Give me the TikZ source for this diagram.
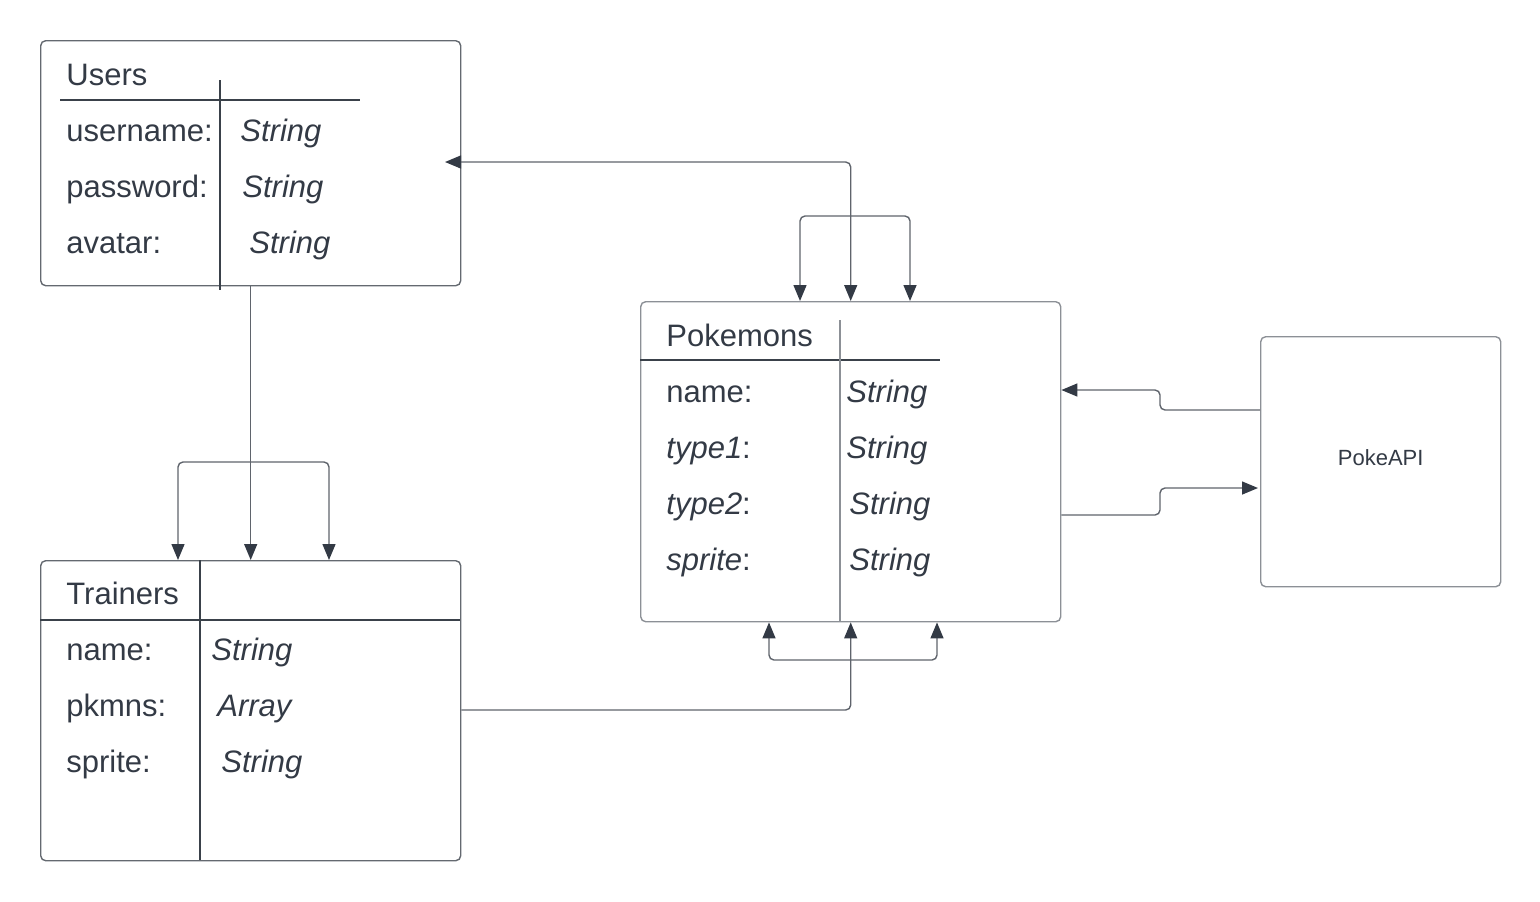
\documentclass[tikz,border=0pt]{standalone}
\usepackage{fontspec}
\setmainfont{Liberation Sans}
\usetikzlibrary{arrows.meta,calc}
\definecolor{txt}{RGB}{51,58,69}
\definecolor{dark}{RGB}{58,65,74}
\definecolor{line}{RGB}{95,100,108}
\definecolor{bordA}{RGB}{100,105,112}
\definecolor{bordB}{RGB}{140,144,150}
\tikzset{
  box/.style={draw=#1, line width=0.7pt, rounded corners=2.5pt, inner sep=0pt, anchor=north west},
  sep/.style={draw=dark, line width=0.6pt},
  lbl/.style={anchor=base west, inner sep=0pt, text=txt, font=\fontsize{15.5}{18}\selectfont},
  conn/.style={draw=line, line width=0.7pt, rounded corners=2.5pt},
  arr/.style={conn, -{Triangle[length=8pt,width=6.5pt,color=txt]}},
  darr/.style={conn, {Triangle[length=8pt,width=6.5pt,color=txt]}-{Triangle[length=8pt,width=6.5pt,color=txt]}},
}
\begin{document}
\begin{tikzpicture}[x=0.5pt,y=-0.5pt]
\useasboundingbox (0,0) rectangle (1540,901);
% boxes
\node[box=bordA, minimum width=210pt, minimum height=122.5pt] (users) at (40,40) {};
\node[box=bordA, minimum width=210pt, minimum height=150pt] (trainers) at (40,560) {};
\node[box=bordB, minimum width=210pt, minimum height=160pt] (pokemons) at (640,301) {};
\node[box=bordB, minimum width=120pt, minimum height=125pt] (api) at (1260,336) {};
% users inner
\draw[sep] (60,100) -- (360,100);
\draw[sep] (220,80) -- (220,290);
\node[lbl] (uh) at (66,85) {Users};
\node[lbl] (u1) at (66,141) {username:};
\node[lbl] (u2) at (66,197) {password:};
\node[lbl] (u3) at (66,253) {avatar:};
\node[lbl] (u1v) at (240,141) {\itshape String};
\node[lbl] (u2v) at (242,197) {\itshape String};
\node[lbl] (u3v) at (249,253) {\itshape String};
% trainers inner
\draw[sep] (40,620) -- (460,620);
\draw[sep] (200,560) -- (200,860);
\node[lbl] (th) at (66,604) {Trainers};
\node[lbl] (t1) at (66,660) {name:};
\node[lbl] (t2) at (66,716) {pkmns:};
\node[lbl] (t3) at (66,772) {sprite:};
\node[lbl] (t1v) at (211,660) {\itshape String};
\node[lbl] (t2v) at (217,716) {\itshape Array};
\node[lbl] (t3v) at (221,772) {\itshape String};
% pokemons inner
\draw[sep] (640,360) -- (940,360);
\draw[sep, draw=bordB] (840,320) -- (840,621);
\node[lbl] (ph) at (666,346) {Pokemons};
\node[lbl] (p1) at (666,402) {name:};
\node[lbl] (p2) at (666,458) {\itshape type1\upshape:};
\node[lbl] (p3) at (666,514) {\itshape type2\upshape:};
\node[lbl] (p4) at (666,570) {\itshape sprite\upshape:};
\node[lbl] (p1v) at (846,402) {\itshape String};
\node[lbl] (p2v) at (846,458) {\itshape String};
\node[lbl] (p3v) at (849,514) {\itshape String};
\node[lbl] (p4v) at (849,570) {\itshape String};
% api
\node[text=txt, font=\fontsize{11}{13}\selectfont] (apil) at ($(api.center)+(0,-4)$) {PokeAPI};
% coordinates
\coordinate (uj) at (250,462);
\coordinate (pj) at (850,216);
\coordinate (bj) at (850,660);
\coordinate (uin) at (445,162);
% users -> trainers
\draw[arr] (users.south) -- (trainers.north);
\draw[arr] (uj) -| ($(trainers.north west)+(138,0)$);
\draw[arr] (uj) -| ($(trainers.north west)+(289,0)$);
% pokemons <-> users
\draw[darr] (pokemons.north) |- (uin);
\draw[arr] (pj) -| ($(pokemons.north west)+(160,0)$);
\draw[arr] (pj) -| ($(pokemons.north west)+(270,0)$);
% trainers -> pokemons
\draw[arr] (trainers.east |- 0,710) -| (pokemons.south);
\draw[arr] (bj) -| ($(pokemons.south west)+(129,0)$);
\draw[arr] (bj) -| ($(pokemons.south west)+(297,0)$);
% api <-> pokemons
\draw[arr] (api.west |- 0,410) -- (1160,410) -- (1160,390) -- (pokemons.east |- 0,390);
\draw[arr] (pokemons.east |- 0,515) -- (1160,515) -- (1160,488) -- ($(api.west |- 0,488)+(-2,0)$);
\end{tikzpicture}
\end{document}
